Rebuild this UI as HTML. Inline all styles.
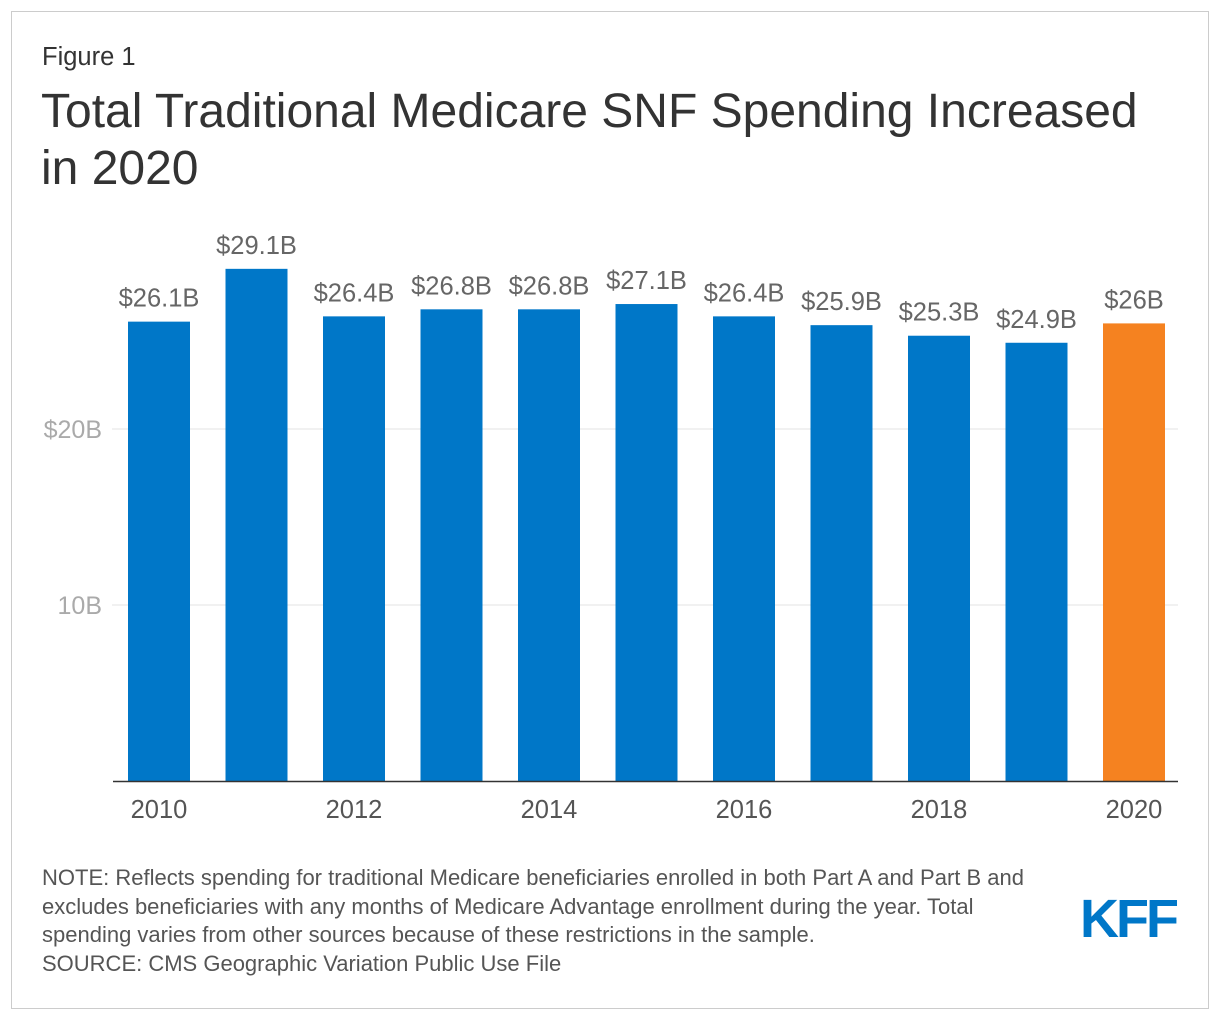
<!DOCTYPE html>
<html><head><meta charset="utf-8">
<style>
body{margin:0;background:#fff;font-family:"Liberation Sans",Arial,sans-serif;}
#frame{position:absolute;left:11px;top:11px;width:1196px;height:996px;border:1px solid #ccc;}
.t{position:absolute;white-space:nowrap;}
</style></head><body>
<div id="frame"></div>
<div class="t" style="left:42px;top:43px;font-size:25.5px;color:#333">Figure 1</div>
<div class="t" style="left:41px;top:83px;font-size:48px;line-height:57px;color:#333">Total Traditional Medicare SNF Spending Increased<br>in 2020</div>
<svg id="chart" width="1220" height="1020" style="position:absolute;left:0;top:0" font-family="Liberation Sans, Arial, sans-serif"></svg>
<div class="t" style="left:42px;top:864px;font-size:22px;line-height:28.5px;color:#555">NOTE: Reflects spending for traditional Medicare beneficiaries enrolled in both Part A and Part B and<br>excludes beneficiaries with any months of Medicare Advantage enrollment during the year. Total<br>spending varies from other sources because of these restrictions in the sample.<br>SOURCE: CMS Geographic Variation Public Use File</div>
<div class="t" style="left:1080px;top:888px;font-size:54px;font-weight:bold;color:#0077c8;letter-spacing:-3px;">KFF</div>
<script>
const years=[2010,2011,2012,2013,2014,2015,2016,2017,2018,2019,2020];
const values=[26.1,29.1,26.4,26.8,26.8,27.1,26.4,25.9,25.3,24.9,26];
const valueLabels=["$26.1B","$29.1B","$26.4B","$26.8B","$26.8B","$27.1B","$26.4B","$25.9B","$25.3B","$24.9B","$26B"];
const ticks=[10,20];
const tickLabels=["10B","$20B"];
const xLabels={2010:"2010",2012:"2012",2014:"2014",2016:"2016",2018:"2018",2020:"2020"};
const svg=document.getElementById('chart');
const NS='http://www.w3.org/2000/svg';
const y0=781,pxPer=17.6,x0=128,step=97.5,bw=62;
const y=v=>y0-v*pxPer;
const x=i=>x0+i*step;
function mk(t,a){const e=document.createElementNS(NS,t);for(const k in a)e.setAttribute(k,a[k]);svg.appendChild(e);return e;}
ticks.forEach((v,i)=>{
 const g=mk('line',{x1:112,x2:1178,y1:y(v),y2:y(v),stroke:'#e3e3e3','stroke-width':1});
 
 
 const t=mk('text',{x:102,y:y(v)+9,'text-anchor':'end','font-size':25,fill:'#aaa'});
 t.textContent=tickLabels[i];
 
 
});
years.forEach((yr,i)=>{
 const r=mk('rect',{x:x(i),y:y(values[i]),width:bw,height:values[i]*pxPer,fill:yr===2020?'#f58220':'#0077c8'});
 
 
 const t=mk('text',{x:x(i)+bw/2,y:y(values[i])-15,'text-anchor':'middle','font-size':25.5,fill:'#666'});
 t.textContent=valueLabels[i];
 
 
 if(xLabels[yr]){
  const l=mk('text',{x:x(i)+bw/2,y:818,'text-anchor':'middle','font-size':25.5,fill:'#555'});
  l.textContent=xLabels[yr];
  
  
 }
});
const ax=mk('line',{x1:113,x2:1178,y1:y0+0.5,y2:y0+0.5,stroke:'#333','stroke-width':1.5});


</script>
</body></html>
